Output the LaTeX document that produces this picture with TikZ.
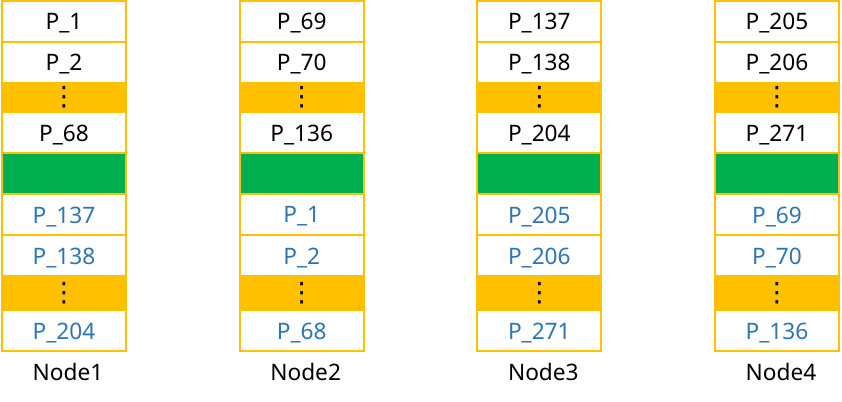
\documentclass[tikz,border=0pt]{standalone}
\usepackage{fontspec}
\setmainfont{Noto Sans}
\newfontfamily\symfont{DejaVu Sans}
\usetikzlibrary{positioning}
\definecolor{gold}{HTML}{FFC000}
\definecolor{slotgreen}{HTML}{00B050}
\definecolor{copyblue}{HTML}{2E75B6}
\newcommand{\stackdots}{{\symfont\fontsize{20}{20}\selectfont ⋮}}

\begin{document}
\begin{tikzpicture}[x=1pt,y=1pt,
            cell/.style={draw=gold,line width=1.4pt,fill=white,minimum width=93pt,minimum height=30.75pt,
                         inner sep=0pt,outer sep=0pt,text depth=0pt,font=\fontsize{17}{19}\selectfont},
            gap/.style={cell,fill=gold,minimum height=22pt,text depth=,text=black},
            spare/.style={cell,fill=slotgreen},
            copy/.style={cell,text=copyblue},
            tag/.style={inner sep=0pt,xshift=3pt,font=\fontsize{17}{19}\selectfont}]
            \useasboundingbox (0,0) rectangle (631.5,-300.75);

            % One column of partitions per node: primaries on top, copies below
            \foreach \i/\a/\b/\c/\d/\e/\f in {1/1/2/68/137/138/204, 2/69/70/136/1/2/68,
                                                3/137/138/204/205/206/271, 4/205/206/271/69/70/136} {
                \node[cell] (c\i-r1) at ({48+178.25*(\i-1)},-16.125) {P\_\a};
                \node[cell,below=0pt of c\i-r1] (c\i-r2) {P\_\b};
                \node[gap,below=0pt of c\i-r2] (c\i-r3) {\stackdots};
                \node[cell,below=0pt of c\i-r3] (c\i-r4) {P\_\c};
                \node[spare,below=0pt of c\i-r4] (c\i-r5) {};
                \node[copy,below=0pt of c\i-r5] (c\i-r6) {P\_\d};
                \node[copy,below=0pt of c\i-r6] (c\i-r7) {P\_\e};
                \node[gap,minimum height=25.5pt,below=0pt of c\i-r7] (c\i-r8) {\stackdots};
                \node[copy,below=0pt of c\i-r8] (c\i-r9) {P\_\f};
                \node[tag,below=9pt of c\i-r9] (c\i-name) {Node\i};
            }
        \end{tikzpicture}
\end{document}
